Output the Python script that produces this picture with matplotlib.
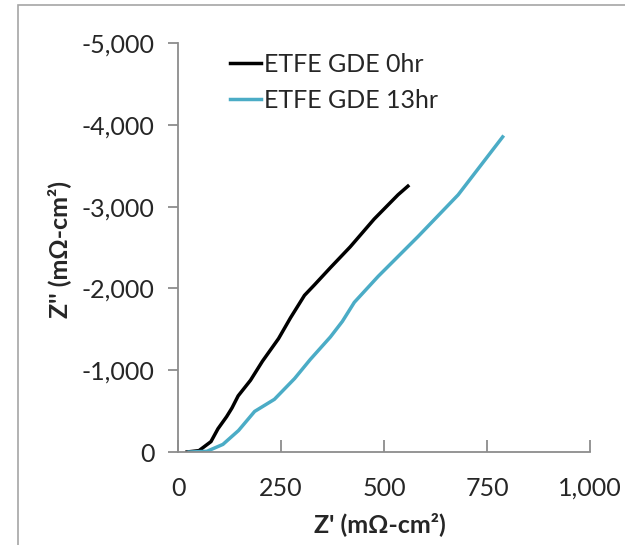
import matplotlib
matplotlib.use('Agg')
import matplotlib.pyplot as plt
from matplotlib.patches import Rectangle
from matplotlib.ticker import FuncFormatter

# readings from the picture (Z' and Z'' in mOhm-cm2)
z_re_0hr = [22, 51, 80, 97, 118, 131, 146, 176, 205, 244, 273, 307, 331, 370, 418, 476, 534, 558]
z_im_0hr = [0, -17, -127, -284, -432, -538, -686, -877, -1110, -1386, -1640, -1915, -2042, -2254, -2508, -2847, -3144, -3250]

z_re_13hr = [27, 70, 109, 147, 186, 234, 283, 321, 370, 399, 428, 486, 583, 680, 788]
z_im_13hr = [0, -8, -93, -263, -496, -644, -898, -1131, -1407, -1597, -1830, -2148, -2636, -3144, -3852]

labels = ['ETFE GDE 0hr', 'ETFE GDE 13hr']
colors = ['black', '#4BACC6']

plt.rcParams['font.family'] = ['Lato', 'DejaVu Sans']
W, H = 625, 545
fig = plt.figure(figsize=(W / 100, H / 100), dpi=100)
ax = fig.add_axes([178 / W, 1 - 452 / H, (590 - 178) / W, (452 - 43) / H])

ax.plot(z_re_0hr, z_im_0hr, color=colors[0], lw=2.5, label=labels[0])
ax.plot(z_re_13hr, z_im_13hr, color=colors[1], lw=2.5, label=labels[1])

ax.set_xlim(0, 1000)
ax.set_ylim(0, -5000)
ax.set_xticks([0, 250, 500, 750, 1000])
ax.set_yticks([0, -1000, -2000, -3000, -4000, -5000])
fmt = FuncFormatter(lambda v, p: '{:,.0f}'.format(v))
ax.xaxis.set_major_formatter(fmt)
ax.yaxis.set_major_formatter(fmt)

for s in ['top', 'right']:
    ax.spines[s].set_visible(False)
for s in ['left', 'bottom']:
    ax.spines[s].set_color('#8c8c8c')
    ax.spines[s].set_linewidth(1.3)
ax.tick_params(axis='y', direction='out', length=7, width=1.3, color='#8c8c8c',
               labelsize=18, labelcolor='#262626', pad=10)
ax.tick_params(axis='x', direction='in', length=9, width=1.3, color='#8c8c8c',
               labelsize=18, labelcolor='#262626', pad=18)

fig.text(59 / W, 1 - 250 / H, "Z'' (m\u03a9-cm\u00b2)", rotation=90, ha='center', va='center',
         fontsize=18, fontweight='bold', color='#262626')
fig.text(380 / W, 1 - 524 / H, "Z' (m\u03a9-cm\u00b2)", ha='center', va='center',
         fontsize=18, fontweight='bold', color='#262626')

ax.legend(loc='upper left', bbox_to_anchor=(0.126, 0.975), frameon=False, fontsize=18,
          handlelength=1.25, handletextpad=0.1, labelspacing=0.5,
          borderpad=0, borderaxespad=0, labelcolor='#262626')

# outer chart border
fig.patches.append(Rectangle((18 / W, -0.05), 1.1, 1 - 5 / H + 0.05, transform=fig.transFigure,
                             fill=False, edgecolor='#a6a6a6', lw=1.2))

plt.savefig('out.png', dpi=100)
